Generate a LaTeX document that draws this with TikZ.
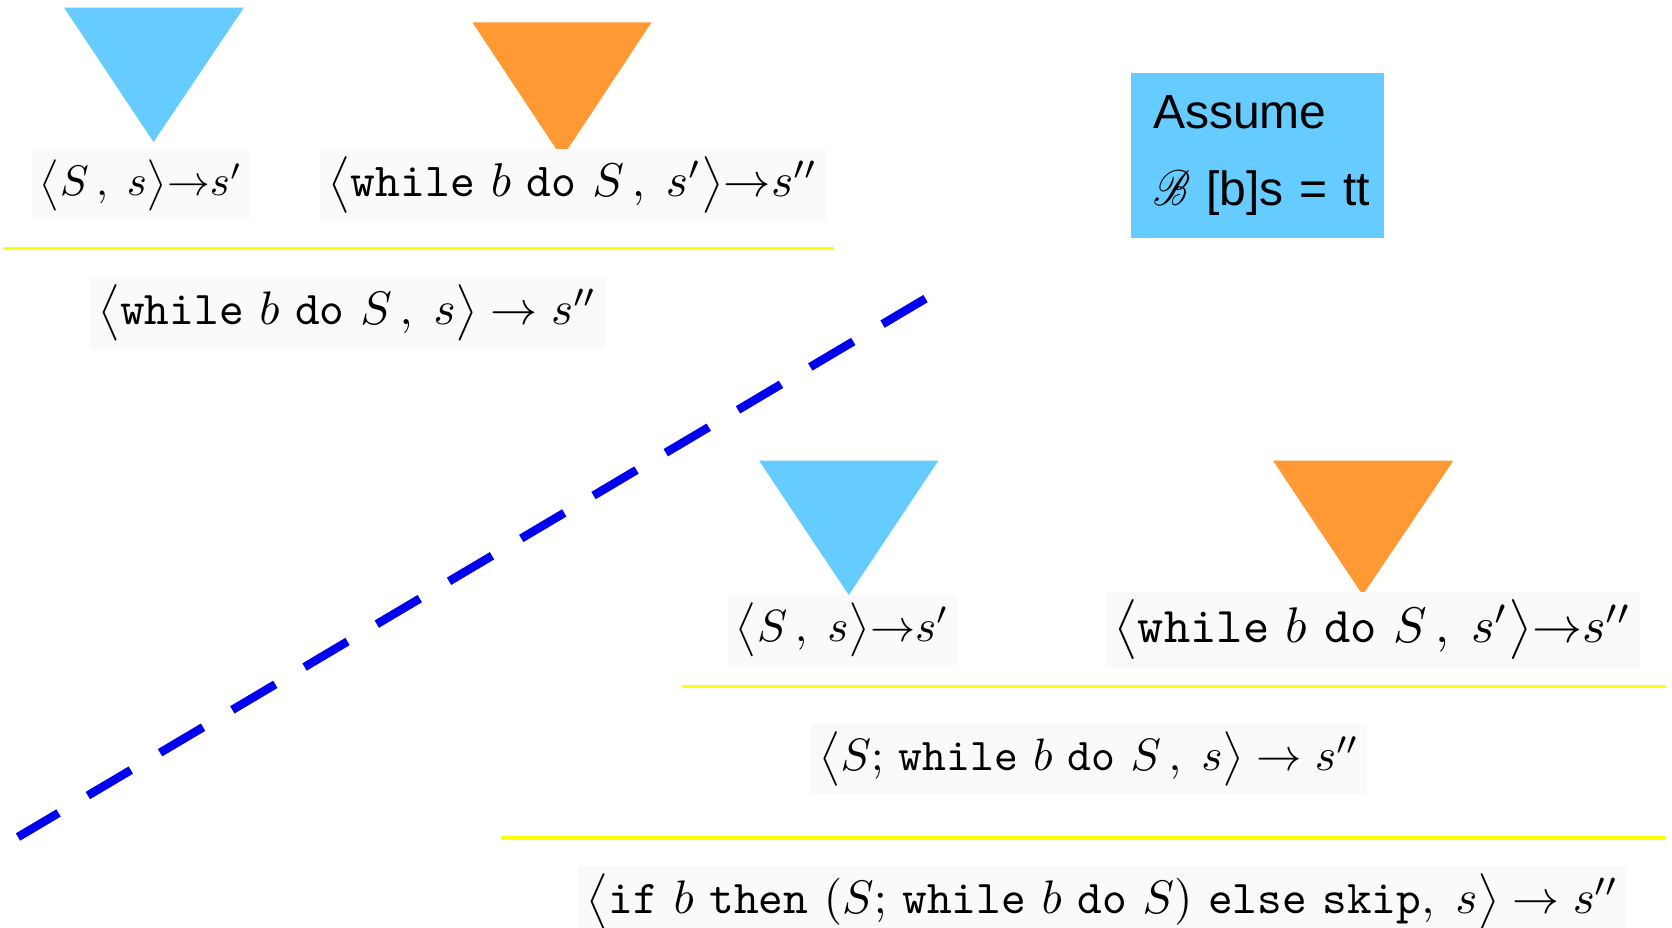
\documentclass[tikz,border=0pt]{standalone}
\usepackage{fontspec}
\usepackage{graphicx}
\usepackage{mathrsfs}
\newfontfamily\arialf{Liberation Sans}
\definecolor{skyb}{HTML}{66CCFF}
\definecolor{orng}{HTML}{FF9933}
\definecolor{yel}{HTML}{FFFF00}
\definecolor{dashblue}{HTML}{0000F0}
\definecolor{paper}{HTML}{FAFAFA}
\newcommand{\kw}[1]{\mathtt{#1}}
\begin{document}
\begin{tikzpicture}[x=1pt,y=-1pt,
  formula/.style={inner sep=8pt, fill=paper},
  rulebar/.style={draw=yel, line width=3.2pt},
  assumebox/.style={fill=skyb, minimum width=253pt, minimum height=165.5pt,
    inner xsep=0pt, inner ysep=0pt, text width=253pt, align=left,
    font=\fontsize{48}{77}\arialf}]
\useasboundingbox (0,0) rectangle (1672,927);
\fill[white] (0,0) rectangle (1672,927);

% triangles
\fill[skyb] (64,7.5) -- (244,7.5) -- (153.5,142) -- cycle;
\fill[orng] (472.4,22.4) -- (651.5,22.4) -- (562,157.8) -- cycle;
\fill[skyb] (759,460.6) -- (938.4,460.6) -- (848.8,595) -- cycle;
\fill[orng] (1273,460.6) -- (1453.4,460.6) -- (1362.7,595) -- cycle;

% formulas
\node[formula] (t1) at (141,185) {\resizebox{202pt}{!}{$\bigl\langle S\,,\;s\bigr\rangle{\rightarrow}s'$}};
\node[formula] (t2) at (573,185) {\resizebox{489pt}{!}{$\bigl\langle \kw{while}\ b\ \kw{do}\ S\,,\;s'\bigr\rangle{\rightarrow}s''$}};
\node[formula] (t3) at (347.6,313) {\resizebox{499pt}{!}{$\bigl\langle \kw{while}\ b\ \kw{do}\ S\,,\;s\bigr\rangle \rightarrow s''$}};
\node[formula] (t4) at (842.4,630) {\resizebox{213pt}{!}{$\bigl\langle S\,,\;s\bigr\rangle{\rightarrow}s'$}};
\node[formula] (t5) at (1372.9,630) {\resizebox{517pt}{!}{$\bigl\langle \kw{while}\ b\ \kw{do}\ S\,,\;s'\bigr\rangle{\rightarrow}s''$}};
\node[formula] (t6) at (1089.2,759.2) {\resizebox{540pt}{!}{$\bigl\langle S;\,\kw{while}\ b\ \kw{do}\ S\,,\;s\bigr\rangle \rightarrow s''$}};
\node[formula] (t7) at (1102.6,902) {\resizebox{1032pt}{!}{$\bigl\langle \kw{if}\ b\ \kw{then}\ (S;\,\kw{while}\ b\ \kw{do}\ S)\ \kw{else}\ \kw{skip},\;s\bigr\rangle \rightarrow s''$}};

% inference bars
\draw[rulebar] (3,248.5) -- (834,248.5);
\draw[rulebar] (682,686.7) -- (1666,686.7);
\draw[rulebar] (501,838) -- (1666,838);

% assumption box
\node[assumebox] (assume) at (1257.5,155.3) {\hspace*{22pt}Assume\\\hspace*{22pt}\resizebox{37pt}{35pt}{$\mathscr{B}$} [b]s = tt};

% dashed separator
\coordinate (dtop) at (925.5,298.6);
\coordinate (dbot) at (18,837);
\draw[dashblue, line width=8.5pt, dash pattern=on 50pt off 34pt] (dtop) -- (dbot);
\end{tikzpicture}
\end{document}
